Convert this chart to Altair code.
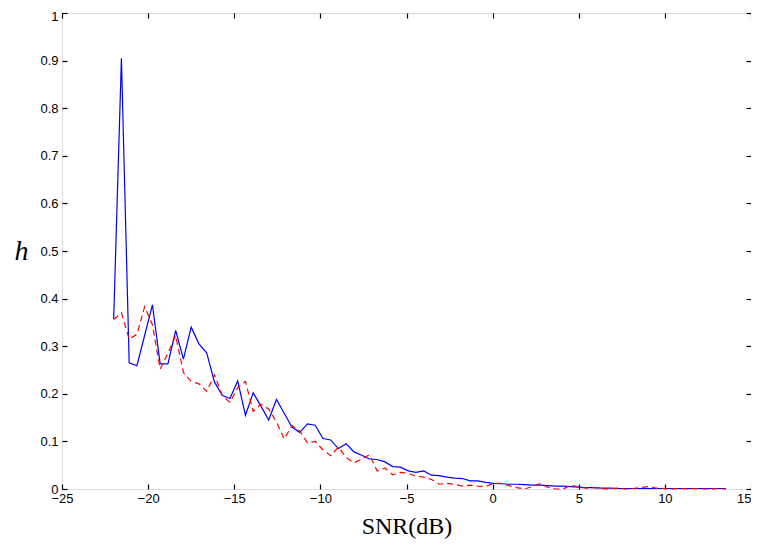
import altair as alt
import pandas as pd

snr = [-22.0, -21.55, -21.1, -20.65, -20.2, -19.75, -19.3, -18.85, -18.4, -17.95,
       -17.5, -17.05, -16.6, -16.15, -15.7, -15.25, -14.8, -14.35, -13.9, -13.45,
       -13.0, -12.55, -12.1, -11.65, -11.2, -10.75, -10.3, -9.85, -9.4, -8.95,
       -8.5, -8.05, -7.6, -7.15, -6.7, -6.25, -5.8, -5.35, -4.9, -4.45,
       -4.0, -3.55, -3.1, -2.65, -2.2, -1.75, -1.3, -0.85, -0.4, 0.05,
       0.5, 0.95, 1.4, 1.85, 2.3, 2.75, 3.2, 3.65, 4.1, 4.55,
       5.0, 5.45, 5.9, 6.35, 6.8, 7.25, 7.7, 8.15, 8.6, 9.05,
       9.5, 9.95, 10.4, 10.85, 11.3, 11.75, 12.2, 12.65, 13.1, 13.55]

h_solid = [0.357, 0.905, 0.265, 0.259, 0.323, 0.387, 0.263, 0.263, 0.333, 0.273,
           0.340, 0.305, 0.286, 0.225, 0.197, 0.190, 0.227, 0.155, 0.202, 0.174,
           0.145, 0.188, 0.159, 0.130, 0.119, 0.137, 0.134, 0.106, 0.103, 0.085,
           0.095, 0.078, 0.071, 0.063, 0.062, 0.057, 0.047, 0.046, 0.038, 0.035,
           0.038, 0.029, 0.028, 0.025, 0.023, 0.022, 0.017, 0.017, 0.014, 0.012,
           0.011, 0.010, 0.010, 0.009, 0.008, 0.008, 0.007, 0.006, 0.006, 0.005,
           0.004, 0.003, 0.003, 0.002, 0.002, 0.001, 0.001, 0.001, 0.001, 0.001,
           0.001, 0.001, 0.001, 0.001, 0.001, 0.001, 0.001, 0.001, 0.001, 0.001]

h_dashed = [0.356, 0.370, 0.315, 0.325, 0.383, 0.345, 0.252, 0.285, 0.322, 0.245,
            0.226, 0.221, 0.205, 0.240, 0.196, 0.182, 0.213, 0.226, 0.163, 0.178,
            0.168, 0.141, 0.105, 0.133, 0.122, 0.097, 0.100, 0.082, 0.070, 0.088,
            0.066, 0.055, 0.063, 0.072, 0.038, 0.044, 0.030, 0.035, 0.033, 0.027,
            0.025, 0.020, 0.010, 0.012, 0.010, 0.006, 0.008, 0.006, 0.005, 0.012,
            0.012, 0.007, 0.003, 0.000, 0.005, 0.011, 0.004, 0.000, 0.000, 0.008,
            0.004, 0.002, 0.003, 0.001, 0.000, 0.002, 0.000, 0.001, 0.003, 0.005,
            0.002, 0.001, 0.000, 0.001, 0.000, 0.001, 0.000, 0.000, 0.001, 0.000]

x_ticks = [-25, -20, -15, -10, -5, 0, 5, 10, 15]
y_ticks = [0, 0.1, 0.2, 0.3, 0.4, 0.5, 0.6, 0.7, 0.8, 0.9, 1]

df_solid = pd.DataFrame({"snr": snr, "h": h_solid})
df_dashed = pd.DataFrame({"snr": snr, "h": h_dashed})

xscale = alt.Scale(domain=[-25, 15], nice=False, zero=False)
yscale = alt.Scale(domain=[0, 1], nice=False, zero=False)

common_axis = dict(domain=False, grid=False, tickSize=5, offset=-5, tickColor="black",
                   tickWidth=1.2, labelColor="black", labelFont="Liberation Sans",
                   labelFontSize=13, labelFlush=False, labelOverlap=False)

x_bottom = alt.Axis(values=x_ticks, labelPadding=3, title="SNR(dB)",
                    titleFont="Liberation Serif", titleFontSize=24,
                    titleFontWeight="normal", titleColor="black", titlePadding=9,
                    labelAlign={"condition": {"test": "datum.value == 15", "value": "right"},
                                "value": "center"},
                    **common_axis)
y_left = alt.Axis(values=y_ticks, labelPadding=4, title="h", titleAngle=0,
                  titleFont="Liberation Serif", titleFontSize=28,
                  titleFontStyle="italic", titleFontWeight="normal",
                  titleColor="black", titlePadding=19, titleBaseline="middle",
                  labelOffset={"condition": {"test": "datum.value == 1", "value": 3},
                               "value": 0},
                  format="~g", **common_axis)
x_top = alt.Axis(values=x_ticks, orient="top", labels=False, title=None, **common_axis)
y_right = alt.Axis(values=y_ticks, orient="right", labels=False, title=None, **common_axis)

solid = alt.Chart(df_solid).mark_line(color="#0000ff", strokeWidth=1.2).encode(
    x=alt.X("snr:Q", scale=xscale, axis=x_bottom),
    y=alt.Y("h:Q", scale=yscale, axis=y_left),
)

dashed = alt.Chart(df_dashed).mark_line(color="#ff0000", strokeWidth=1.2,
                                        strokeDash=[6, 4]).encode(
    x=alt.X("snr:Q", scale=xscale, axis=x_top),
    y=alt.Y("h:Q", scale=yscale, axis=y_right),
)

chart = alt.layer(solid, dashed).resolve_axis(
    x="independent", y="independent"
).properties(
    width=689, height=476,
    autosize=alt.AutoSizeParams(type="none"),
    padding={"left": 54, "top": 5, "right": 0, "bottom": 50},
).configure_view(
    stroke="black", strokeWidth=1.5, strokeOpacity=1
).configure(background="white")

chart.save("out.html", embed_options={"renderer": "svg", "actions": False})
